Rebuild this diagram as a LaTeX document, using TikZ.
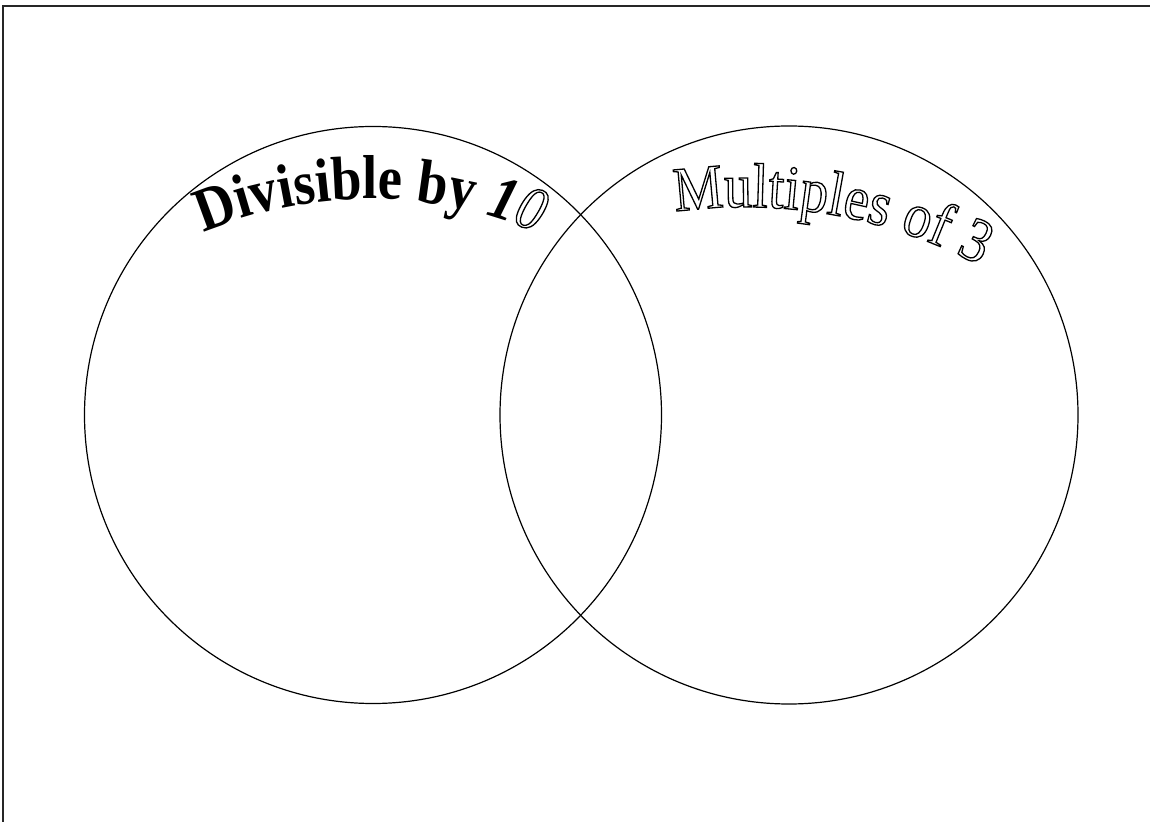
\documentclass[tikz,border=0pt]{standalone}
\usepackage{fontspec}
\setmainfont{Liberation Serif}
\newfontfamily\tallserif[FakeStretch=0.88]{Liberation Serif}
\usetikzlibrary{decorations.text}
\newcommand\outlon{\special{pdf:literal direct 1 Tr 1.3 w}}
\newcommand\bigfontA{\tallserif\fontsize{62}{66}\selectfont}
\newcommand\bigfontB{\tallserif\fontsize{63}{66}\selectfont}
\tikzset{
  frameline/.style={line width=2pt, draw=black!85},
  setcircle/.style={circle, draw=black, line width=1.2pt, minimum size=577pt, inner sep=0pt},
}
\begin{document}
\begin{tikzpicture}[x=1pt,y=1pt]
\useasboundingbox (0,0) rectangle (1150,822);
% frame (top and left edges only)
\coordinate (fTL) at (3,816);
\coordinate (fTR) at (1150,816);
\coordinate (fBL) at (3,0);
\draw[frameline] (fTR) -- (fTL) -- (fBL);
% sets
\node[setcircle] (ten) at (373,407) {};
\node[setcircle, minimum size=578pt] (three) at (789,407) {};
% labels along arcs
\coordinate (cA) at (370,193);
\coordinate (cB) at (745,115);
\path[decorate, decoration={text along path, text align=center,
  text={|\bigfontA\bfseries|Divisible by |\bigfontA\bfseries\itshape|1|\bigfontA\itshape\outlon|0}}]
  ([shift={(135:430)}]cA) arc[start angle=135, end angle=45, radius=430];
\path[decorate, decoration={text along path, text align=center,
  text={|\bigfontB\outlon|Multiples of 3}}]
  ([shift={(120:500)}]cB) arc[start angle=120, end angle=40, radius=500];
\end{tikzpicture}
\end{document}
